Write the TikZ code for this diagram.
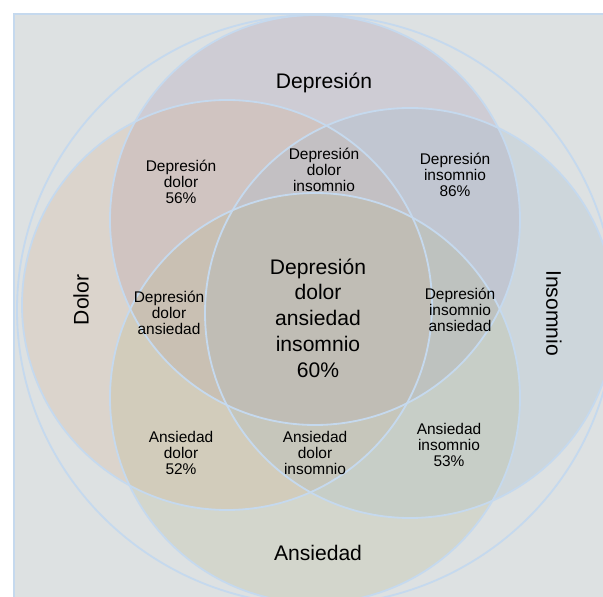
\documentclass[tikz,border=0pt]{standalone}
\usepackage{fontspec}
\setmainfont{Liberation Sans}
\definecolor{panel}{RGB}{221,225,226}
\definecolor{rim}{RGB}{197,217,238}
\definecolor{depcol}{RGB}{165,145,172}
\definecolor{dolcol}{RGB}{214,174,140}
\definecolor{inscol}{RGB}{158,183,202}
\definecolor{anscol}{RGB}{184,184,140}
\begin{document}
\begin{tikzpicture}[
  setname/.style={font=\fontsize{15}{18}\selectfont},
  zone/.style={align=center,font=\fontsize{11}{11.2}\selectfont},
  core/.style={align=center,font=\fontsize{15}{18.3}\selectfont},
  rimline/.style={draw=rim,line width=1.3pt},
  setfill/.style={fill=#1,fill opacity=0.25}]
\useasboundingbox (0,0) rectangle (15.075,14.9);
\clip (0,0) rectangle (15.075,14.9);
%\draw[step=0.5cm,gray,very thin] (0,0) grid (15,15);
\fill[panel] (0.35,-1) rectangle (16,14.55);
\draw[rimline] (0.35,-1) -- (0.35,14.55) -- (16,14.55);
\fill[setfill=depcol] (7.875,9.4) circle (5.125);
\fill[setfill=dolcol] (5.675,7.275) circle (5.125);
\fill[setfill=inscol] (10.25,7.075) circle (5.125);
\fill[setfill=anscol] (7.875,4.95) circle (5.125);
\draw[rimline] (7.9,7.15) ellipse (7.475 and 7.375);
\draw[rimline] (7.875,9.4) circle (5.125);
\draw[rimline] (5.675,7.275) circle (5.125);
\draw[rimline] (10.25,7.075) circle (5.125);
\draw[rimline] (7.875,4.95) circle (5.125);
\node[setname] (depname) at (8.1,12.825) {Depresión};
\node[setname,rotate=90] (dolname) at (2.025,7.4) {Dolor};
\node[setname,rotate=-90] (insname) at (13.85,7.075) {Insomnio};
\node[setname] (ansname) at (7.95,1.075) {Ansiedad};
\node[zone] (depdol) at (4.525,10.35) {Depresión\\dolor\\56\%};
\node[zone] (depdolins) at (8.1,10.65) {Depresión\\dolor\\insomnio};
\node[zone] (depins) at (11.375,10.525) {Depresión\\insomnio\\86\%};
\node[zone] (depdolans) at (4.225,7.075) {Depresión\\dolor\\ansiedad};
\node[core] (todos) at (7.95,6.95) {Depresión\\dolor\\ansiedad\\insomnio\\60\%};
\node[zone] (depinsans) at (11.5,7.15) {Depresión\\insomnio\\ansiedad};
\node[zone] (ansdol) at (4.525,3.575) {Ansiedad\\dolor\\52\%};
\node[zone] (ansdolins) at (7.875,3.575) {Ansiedad\\dolor\\insomnio};
\node[zone] (ansins) at (11.225,3.775) {Ansiedad\\insomnio\\53\%};
\end{tikzpicture}
\end{document}
